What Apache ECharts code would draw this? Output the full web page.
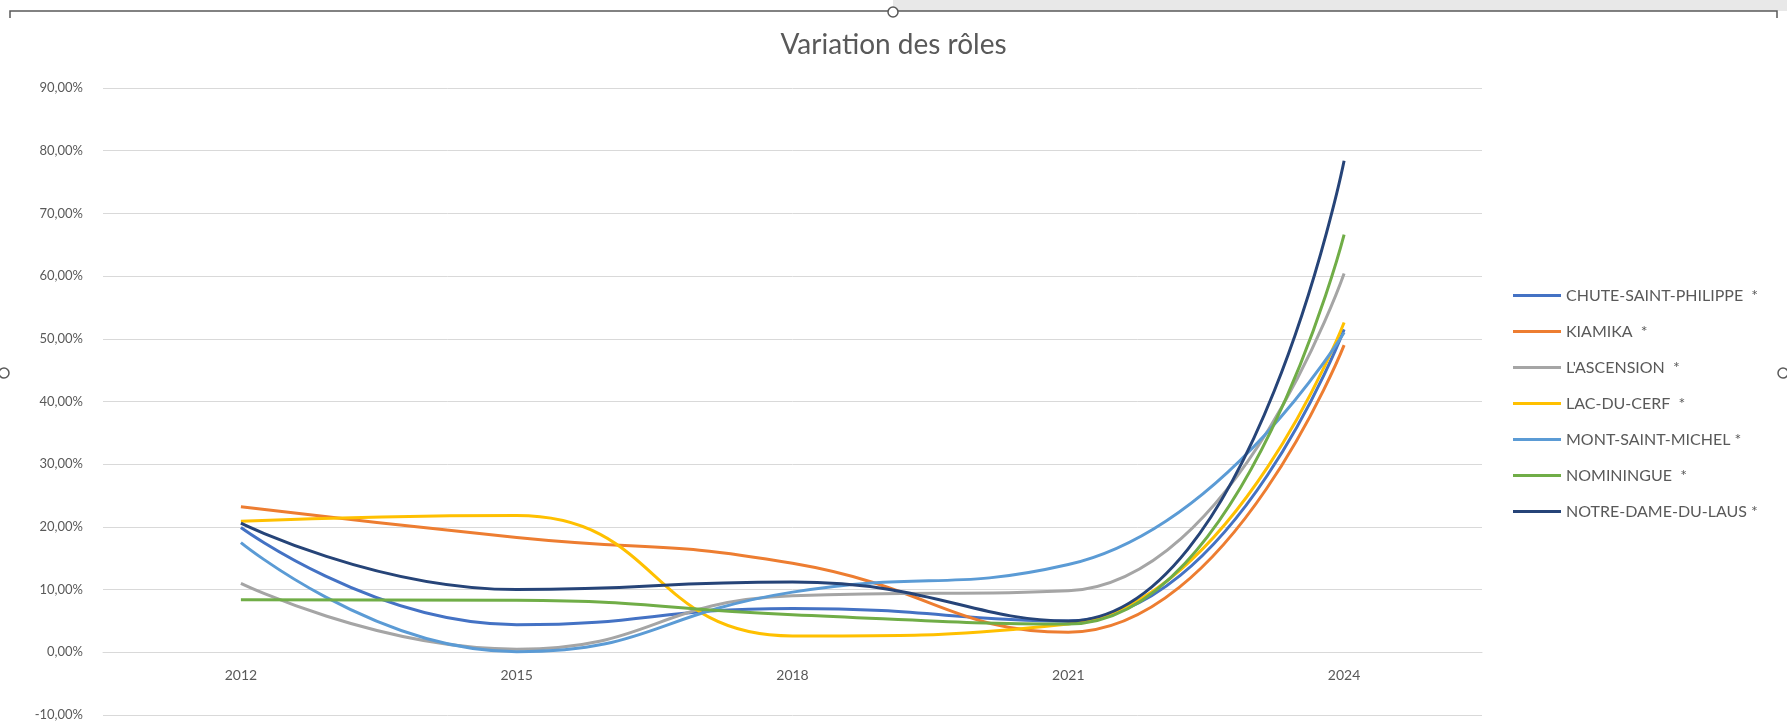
<!DOCTYPE html>
<html><head><meta charset="utf-8">
<script src="https://cdn.jsdelivr.net/npm/echarts@6/dist/echarts.min.js"></script>
<style>html,body{margin:0;padding:0;background:#fff}#c{width:1787px;height:727px}</style>
</head><body><div id="c"></div>
<script>
const years = ['2012', '2015', '2018', '2021', '2024'];
const seriesNames = ['CHUTE-SAINT-PHILIPPE', 'KIAMIKA', "L'ASCENSION", 'LAC-DU-CERF', 'MONT-SAINT-MICHEL', 'NOMININGUE', 'NOTRE-DAME-DU-LAUS'];
const legendLabels = ['CHUTE-SAINT-PHILIPPE  *', 'KIAMIKA  *', "L'ASCENSION  *", 'LAC-DU-CERF  *', 'MONT-SAINT-MICHEL *', 'NOMININGUE  *', 'NOTRE-DAME-DU-LAUS *'];
const chuteSaintPhilippe = [19.9, 4.4, 7.0, 5.0, 51.5];
const kiamika = [23.2, 18.3, 14.2, 3.2, 49.0];
const lAscension = [11.0, 0.5, 9.0, 9.8, 60.4];
const lacDuCerf = [20.9, 21.8, 2.6, 4.5, 52.6];
const montSaintMichel = [17.5, 0.1, 9.6, 14.0, 51.0];
const nominingue = [8.4, 8.3, 6.0, 4.5, 66.6];
const notreDameDuLaus = [20.6, 10.0, 11.2, 5.0, 78.4];
const allValues = [chuteSaintPhilippe, kiamika, lAscension, lacDuCerf, montSaintMichel, nominingue, notreDameDuLaus];
const colors = ['#4472C4', '#ED7D31', '#A5A5A5', '#FFC000', '#5B9BD5', '#70AD47', '#264478'];

const font = 'Lato, "Open Sans", sans-serif';
const chart = echarts.init(document.getElementById('c'));
chart.setOption({
  animation: false,
  color: colors,
  title: {
    text: 'Variation des rôles', left: 'center', top: 26,
    textStyle: { fontFamily: font, fontSize: 28, fontWeight: 'normal', color: '#595959' }
  },
  legend: {
    orient: 'vertical', left: 1508, top: 281,
    icon: 'rect', itemWidth: 48, itemHeight: 3, itemGap: 17,
    textStyle: { fontFamily: font, fontSize: 16, color: '#595959', lineHeight: 19 },
    formatter: n => legendLabels[seriesNames.indexOf(n)],
    data: seriesNames
  },
  grid: { left: 103, right: 305, top: 88, bottom: 12, containLabel: false },
  xAxis: {
    type: 'category', data: years, boundaryGap: true, offset: -63,
    axisLine: { onZero: false, lineStyle: { color: '#D9D9D9', width: 1 } },
    axisTick: { show: false },
    axisLabel: { fontFamily: font, fontSize: 14, color: '#595959', margin: 16 }
  },
  yAxis: {
    type: 'value', min: -10, max: 90, interval: 10,
    axisLine: { show: false }, axisTick: { show: false },
    splitLine: { lineStyle: { color: '#D9D9D9', width: 1 } },
    axisLabel: { fontFamily: font, fontSize: 13, color: '#595959', margin: 20,
      formatter: v => v.toFixed(2).replace('.', ',') + '%' }
  },
  series: seriesNames.map((n, i) => ({
    name: n, type: 'line', data: allValues[i], smooth: 0.5,
    showSymbol: false, symbol: 'none',
    lineStyle: { width: 3, color: colors[i] }, itemStyle: { color: colors[i] }
  })),
  graphic: [
    { type: 'rect', shape: { x: 893, y: 0, width: 894, height: 11 }, style: { fill: '#E8E8E8' }, z: -1 },
    { type: 'polyline', shape: { points: [[10, 18], [10, 11], [1777, 11], [1777, 18]] }, style: { stroke: '#595959', lineWidth: 1.5, fill: null } },
    { type: 'circle', shape: { cx: 893, cy: 12, r: 5 }, style: { fill: '#fff', stroke: '#595959', lineWidth: 1.5 } },
    { type: 'circle', shape: { cx: 4, cy: 373, r: 5 }, style: { fill: '#fff', stroke: '#595959', lineWidth: 1.5 } },
    { type: 'circle', shape: { cx: 1783, cy: 373, r: 5 }, style: { fill: '#fff', stroke: '#595959', lineWidth: 1.5 } }
  ]
});
</script></body></html>
